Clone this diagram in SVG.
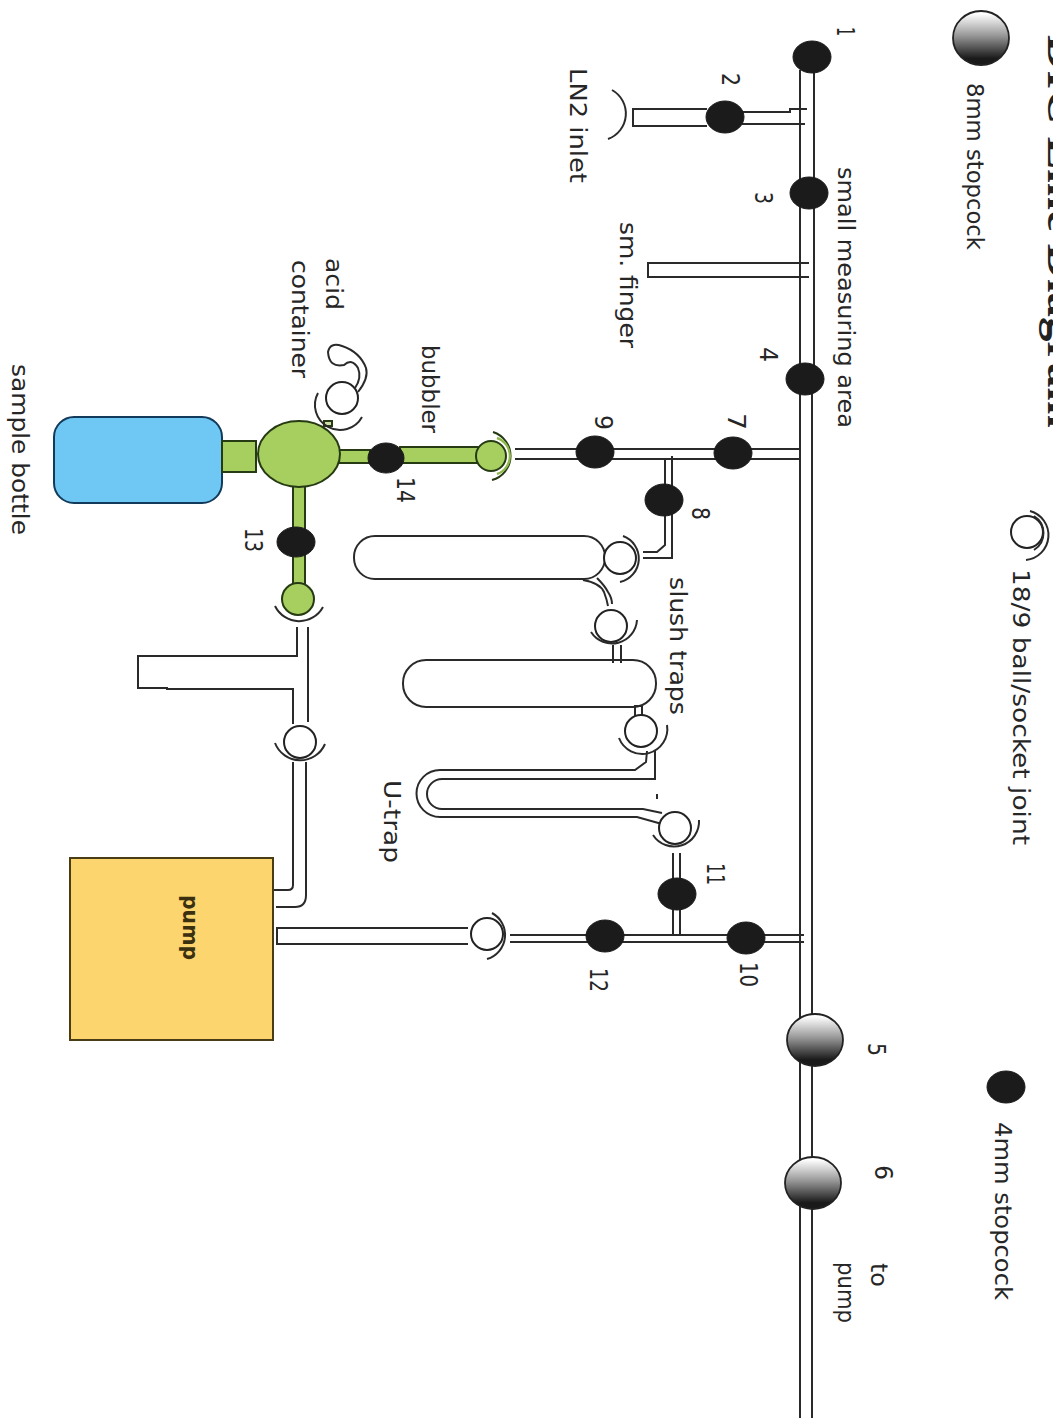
<svg xmlns="http://www.w3.org/2000/svg" width="1053" height="1426" viewBox="0 0 1053 1426">
<style>
text{font-family:"DejaVu Sans",sans-serif;font-size:23px;fill:#262626}
.n{font-size:25px}
.t{fill:none;stroke:#2a2a2a;stroke-width:2}
.s{fill:#1b1b1b;stroke:#1b1b1b;stroke-width:1}
.b{fill:url(#g);stroke:#222;stroke-width:1.8}
.j{fill:#fff;stroke:#222;stroke-width:2}
.gr{fill:#a6cf5f;stroke:#263a14;stroke-width:2}
</style>
<defs>
<linearGradient id="g" x1="0" y1="0" x2="0" y2="1"><stop offset="0.05" stop-color="#fff"/><stop offset="0.45" stop-color="#999"/><stop offset="0.88" stop-color="#1a1a1a"/></linearGradient>
</defs>
<rect width="1053" height="1426" fill="#fff"/>
<text transform="translate(1048,35) rotate(90)" textLength="393" lengthAdjust="spacingAndGlyphs" style="font-family:'Liberation Serif',serif;font-size:42px;font-weight:bold;fill:#222">DIC Line Diagram</text>

<g id="connectors">
<path class="t" d="M800 70V1418M814 70V379M812 379V1418"/>
<path class="t" d="M707 109H633V126H707M742 112H790V109H807M742 124H805"/>
<path class="t" d="M809 263H648V277H809"/>
<path class="t" d="M800 449H515M800 459H515"/>
<path class="t" d="M665 459V545L657 552H643M672 456V558H643"/>
<path class="t" d="M583 580Q600 583 604 592Q607 600 608 606M597 578Q605 586 608 592Q612 598 612 604"/>
<path class="t" d="M613 645V663M621 645V663"/>
<path class="t" d="M635 717V706H642V717Z"/>
<path class="t" d="M647 751L646 762L635 770H440A23.5 23.5 0 0 0 440 817H637L662 824"/>
<path class="t" d="M655 750V779H442A15 15 0 0 0 442 809H643L662 813"/>
<path class="t" d="M657 794V799"/>
<path class="t" d="M673 853V935M680 853V935"/>
<path class="t" d="M804 935H510M804 942H510"/>
<path class="t" d="M468 928H277V944H468"/>
<path class="t" d="M297 627V656H138V688H167V689H293V724M308 627V722"/>
<path class="t" d="M293 762V885Q293 890 288 890H273M306 762V895Q306 907 295 907H276"/>
</g>

<g id="main-traps">
<rect class="t" x="354" y="536" width="251" height="43" rx="21"/>
<rect class="t" x="403" y="660" width="253" height="47" rx="23"/>
</g>

<g id="sample-bottle"><rect x="54" y="417" width="168" height="86" rx="20" fill="#6ec8f3" stroke="#123a5a" stroke-width="2"/></g>
<g id="pump"><rect x="70" y="858" width="203" height="182" fill="#fdd56f" stroke="#4a3c14" stroke-width="2"/>
<text transform="translate(183,895) rotate(90)" textLength="65" lengthAdjust="spacingAndGlyphs" style="font-weight:bold;font-size:22px;fill:#3a3010">pump</text></g>

<g id="green-flask">
<rect class="gr" x="222" y="441" width="34" height="31"/>
<rect class="gr" x="335" y="450" width="35" height="13"/>
<rect class="gr" x="400" y="447" width="78" height="16"/>
<rect class="gr" x="293" y="484" width="12" height="100"/>
<ellipse class="gr" cx="299" cy="454" rx="41" ry="33"/>
<rect class="gr" x="324" y="421" width="8" height="5" style="fill:#cfe0a8"/>
</g>

<g id="joint-lN2"><path class="t" d="M612 90A27 27 0 0 1 608 139"/></g>
<g id="joint-bubbler">
<circle class="gr" cx="491" cy="456" r="15"/>
<path d="M493 432A25 25 0 0 1 492 480" fill="none" stroke="#263a14" stroke-width="2"/>
<path d="M497 438A19 19 0 0 1 497 474" fill="none" stroke="#8fb84c" stroke-width="2.4"/>
</g>
<g id="joint-13"><circle class="gr" cx="298" cy="599" r="16"/><path class="t" d="M275 606A27 27 0 0 0 323 607"/></g>
<g id="joint-tube"><circle class="j" cx="300" cy="742" r="16"/><path class="t" d="M275 743A27 27 0 0 0 325 744"/></g>
<g id="joint-pump"><circle class="j" cx="487" cy="934" r="16"/><path class="t" d="M492 913A25 25 0 0 1 487 959"/></g>
<g id="joint-11"><circle class="j" cx="675" cy="828" r="16"/><path class="t" d="M653 835A25 25 0 0 0 699 820"/></g>
<g id="joint-utrap"><circle class="j" cx="641" cy="731" r="16"/><path class="t" d="M619 738A25 25 0 0 0 667 725"/></g>
<g id="joint-trap2"><circle class="j" cx="611" cy="626" r="16"/><path class="t" d="M591 632A25 25 0 0 0 637 620"/></g>
<g id="joint-trap1"><circle class="j" cx="620" cy="558" r="16"/><path class="t" d="M623 536A24 24 0 0 1 620 582"/></g>
<g id="joint-acid"><circle class="j" cx="342" cy="398" r="16"/><path class="t" d="M318 393A25 25 0 0 0 362 417"/>
<path class="t" d="M358 392Q369 378 366 368Q360 352 342 346Q330 342 328 352Q329 368 344 365Q352 358 358 368Q362 378 355 388"/></g>
<g id="legend-joint"><circle class="j" cx="1027" cy="532" r="16"/><path class="t" d="M1030 511A25 25 0 0 1 1026 560"/><path class="t" d="M1034 516A20 20 0 0 1 1034 550"/></g>

<g id="sc1"><ellipse class="s" cx="812" cy="57" rx="19" ry="16"/></g>
<g id="sc2"><ellipse class="s" cx="725" cy="117" rx="19" ry="16"/></g>
<g id="sc3"><ellipse class="s" cx="809" cy="193" rx="19" ry="16"/></g>
<g id="sc4"><ellipse class="s" cx="805" cy="379" rx="19" ry="16"/></g>
<g id="sc7"><ellipse class="s" cx="733" cy="453" rx="19" ry="16"/></g>
<g id="sc9"><ellipse class="s" cx="595" cy="452" rx="19" ry="16"/></g>
<g id="sc8"><ellipse class="s" cx="664" cy="500" rx="19" ry="16"/></g>
<g id="sc14"><ellipse class="s" cx="386" cy="458" rx="18" ry="15"/></g>
<g id="sc13"><ellipse class="s" cx="296" cy="542" rx="19" ry="15"/></g>
<g id="sc11"><ellipse class="s" cx="677" cy="894" rx="19" ry="16"/></g>
<g id="sc12"><ellipse class="s" cx="605" cy="936" rx="19" ry="16"/></g>
<g id="sc10"><ellipse class="s" cx="746" cy="938" rx="19" ry="16"/></g>
<g id="legend-sc4"><ellipse class="s" cx="1006" cy="1087" rx="19" ry="16"/></g>
<g id="sc5"><ellipse class="b" cx="815" cy="1040" rx="28" ry="26"/></g>
<g id="sc6"><ellipse class="b" cx="813" cy="1183" rx="28" ry="26"/></g>
<g id="legend-sc8"><ellipse class="b" cx="981" cy="38" rx="28" ry="27"/></g>

<g id="labels">
<text class="n" transform="translate(837,27) rotate(90)" textLength="9" lengthAdjust="spacingAndGlyphs">1</text>
<text class="n" transform="translate(722,73) rotate(90)" textLength="13" lengthAdjust="spacingAndGlyphs">2</text>
<text class="n" transform="translate(755,192) rotate(90)" textLength="12" lengthAdjust="spacingAndGlyphs">3</text>
<text class="n" transform="translate(760,347) rotate(90)" textLength="15" lengthAdjust="spacingAndGlyphs">4</text>
<text class="n" transform="translate(868,1043) rotate(90)" textLength="13" lengthAdjust="spacingAndGlyphs">5</text>
<text class="n" transform="translate(875,1165) rotate(90)" textLength="15" lengthAdjust="spacingAndGlyphs">6</text>
<text class="n" transform="translate(728,413) rotate(90)" textLength="17" lengthAdjust="spacingAndGlyphs">7</text>
<text class="n" transform="translate(692,507) rotate(90)" textLength="13" lengthAdjust="spacingAndGlyphs">8</text>
<text class="n" transform="translate(595,415) rotate(90)" textLength="15" lengthAdjust="spacingAndGlyphs">9</text>
<text class="n" transform="translate(740,962) rotate(90)" textLength="25" lengthAdjust="spacingAndGlyphs">10</text>
<text class="n" transform="translate(707,863) rotate(90)" textLength="22" lengthAdjust="spacingAndGlyphs">11</text>
<text class="n" transform="translate(590,968) rotate(90)" textLength="24" lengthAdjust="spacingAndGlyphs">12</text>
<text class="n" transform="translate(245,528) rotate(90)" textLength="24" lengthAdjust="spacingAndGlyphs">13</text>
<text class="n" transform="translate(397,477) rotate(90)" textLength="26" lengthAdjust="spacingAndGlyphs">14</text>
<text transform="translate(967,83) rotate(90)" textLength="167" lengthAdjust="spacingAndGlyphs">8mm stopcock</text>
<text transform="translate(1013,569) rotate(90)" textLength="276" lengthAdjust="spacingAndGlyphs">18/9 ball/socket joint</text>
<text transform="translate(995,1122) rotate(90)" textLength="178" lengthAdjust="spacingAndGlyphs">4mm stopcock</text>
<text transform="translate(838,167) rotate(90)" textLength="261" lengthAdjust="spacingAndGlyphs">small measuring area</text>
<text transform="translate(570,68) rotate(90)" textLength="115" lengthAdjust="spacingAndGlyphs">LN2 inlet</text>
<text transform="translate(620,222) rotate(90)" textLength="126" lengthAdjust="spacingAndGlyphs">sm. finger</text>
<text transform="translate(422,345) rotate(90)" textLength="88" lengthAdjust="spacingAndGlyphs">bubbler</text>
<text transform="translate(326,258) rotate(90)" textLength="52" lengthAdjust="spacingAndGlyphs">acid</text>
<text transform="translate(292,260) rotate(90)" textLength="118" lengthAdjust="spacingAndGlyphs">container</text>
<text transform="translate(12,364) rotate(90)" textLength="171" lengthAdjust="spacingAndGlyphs">sample bottle</text>
<text transform="translate(670,577) rotate(90)" textLength="138" lengthAdjust="spacingAndGlyphs">slush traps</text>
<text transform="translate(384,780) rotate(90)" textLength="83" lengthAdjust="spacingAndGlyphs">U-trap</text>
<text transform="translate(871,1263) rotate(90)" textLength="24" lengthAdjust="spacingAndGlyphs">to</text>
<text transform="translate(838,1262) rotate(90)" textLength="61" lengthAdjust="spacingAndGlyphs">pump</text>
</g>
</svg>
